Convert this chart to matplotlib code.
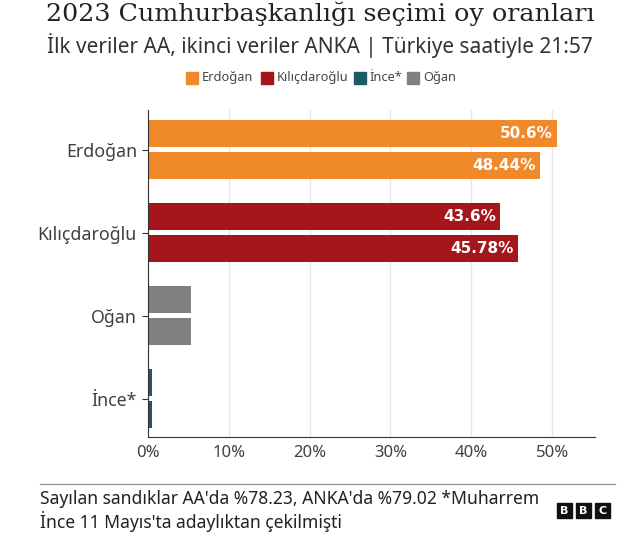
import matplotlib.pyplot as plt
from matplotlib.patches import Rectangle

# Veriler (ilk: AA, ikinci: ANKA)
candidates = ["Erdoğan", "Kılıçdaroğlu", "Oğan", "İnce*"]
aa_values = [50.6, 43.6, 5.3, 0.5]
anka_values = [48.44, 45.78, 5.3, 0.45]
show_labels = [True, True, False, False]
bar_colors = ["#f0892a", "#a5161b", "#808081", "#1d5a67"]

legend_names = ["Erdoğan", "Kılıçdaroğlu", "İnce*", "Oğan"]
legend_colors = ["#f0892a", "#a5161b", "#1d5a67", "#808081"]

x_ticks = [0, 10, 20, 30, 40, 50]
x_tick_labels = ["0%", "10%", "20%", "30%", "40%", "50%"]

plt.rcParams['font.family'] = ['Noto Sans', 'DejaVu Sans']

fig = plt.figure(figsize=(6.4, 5.4), dpi=100)
ax = fig.add_axes([148 / 640, 1 - 437 / 540, (595 - 148) / 640, (437 - 110) / 540])

h = 0.325
off = 0.19
for i, (a, b, c) in enumerate(zip(aa_values, anka_values, bar_colors)):
    ax.barh(i - off, a, height=h, color=c, zorder=2)
    ax.barh(i + off, b, height=h, color=c, zorder=2)
    if show_labels[i]:
        for y, v in ((i - off, a), (i + off, b)):
            ax.text(v - 0.5, y, f"{v}%", ha="right", va="center", color="white",
                    fontsize=11, fontweight="bold", family="DejaVu Sans", zorder=3)

ax.set_ylim(3.46, -0.476)
ax.set_xlim(0, 55.3)
ax.set_yticks(range(len(candidates)))
ax.set_yticklabels(candidates, fontsize=12.8, color="#404040")
ax.set_xticks(x_ticks)
ax.set_xticklabels(x_tick_labels, fontsize=12, color="#404040")
ax.tick_params(axis="y", length=4, color="#333333", pad=4)
ax.tick_params(axis="x", length=0, pad=6)
ax.grid(axis="x", color="#e6e6e6", linewidth=1, zorder=0)
for s in ["top", "right"]:
    ax.spines[s].set_visible(False)
ax.spines["left"].set_color("#333333")
ax.spines["bottom"].set_color("#333333")

fig.text(0.5, 1 - 14 / 540, "2023 Cumhurbaşkanlığı seçimi oy oranları",
         ha="center", va="center", fontsize=18.3, family="DejaVu Serif", color="#222222")
fig.text(0.5, 1 - 46 / 540, "İlk veriler AA, ikinci veriler ANKA | Türkiye saatiyle 21:57",
         ha="center", va="center", fontsize=15, color="#333333")

# Lejant
legend_x = [186, 261, 354, 407]
for name, col, x in zip(legend_names, legend_colors, legend_x):
    fig.patches.append(Rectangle((x / 640, 1 - 84 / 540), 12 / 640, 12 / 540,
                                 transform=fig.transFigure, color=col))
    fig.text((x + 16) / 640, 1 - 78 / 540, name, ha="left", va="center",
             fontsize=9.2, color="#444444")

# Alt bilgi
fig.add_artist(plt.Line2D([40 / 640, 615 / 640], [1 - 484 / 540, 1 - 484 / 540],
                          transform=fig.transFigure, color="#999999", linewidth=1))
fig.text(40 / 640, 1 - 499 / 540, "Sayılan sandıklar AA'da %78.23, ANKA'da %79.02 *Muharrem",
         ha="left", va="center", fontsize=12.6, color="#222222")
fig.text(40 / 640, 1 - 522 / 540, "İnce 11 Mayıs'ta adaylıktan çekilmişti",
         ha="left", va="center", fontsize=12.6, color="#222222")
for k, letter in enumerate("BBC"):
    bx = 557 + k * 19
    fig.patches.append(Rectangle((bx / 640, 1 - 518 / 540), 15 / 640, 15 / 540,
                                 transform=fig.transFigure, color="#111111"))
    fig.text((bx + 7.5) / 640, 1 - 510.5 / 540, letter, ha="center", va="center",
             fontsize=8, fontweight="bold", family="DejaVu Sans", color="white")

fig.savefig("out.png", dpi=100)
